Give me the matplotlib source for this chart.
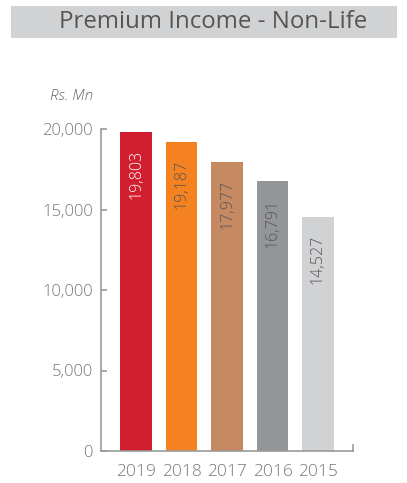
import matplotlib
matplotlib.use("Agg")
import matplotlib.pyplot as plt
from matplotlib.patches import Rectangle
from matplotlib.ticker import FuncFormatter

years = ["2019", "2018", "2017", "2016", "2015"]
values = [19803, 19187, 17977, 16791, 14527]
value_labels = ["19,803", "19,187", "17,977", "16,791", "14,527"]
colors = ["#D11F30", "#F58220", "#C68A62", "#939598", "#D1D2D4"]
label_colors = ["#FFFFFF", "#555555", "#555555", "#555555", "#555555"]
yticks = [0, 5000, 10000, 15000, 20000]

plt.rcParams['font.family'] = ['Open Sans', 'DejaVu Sans']
plt.rcParams['font.weight'] = 'light'

W, H = 407, 483
fig = plt.figure(figsize=(W/100, H/100), dpi=100)

# Title banner
fig.patches.append(Rectangle((11/W, 1-38/H), (397-11)/W, (38-6)/H,
                             transform=fig.transFigure, facecolor="#D1D2D4",
                             edgecolor="none", zorder=0))
fig.text(213/W, 1-22/H, "Premium Income - Non-Life", ha="center", va="center",
         fontsize=17.3, color="#555555", fontweight="normal")
fig.text(50/W, 1-96/H, "Rs. Mn", ha="left", va="center", fontsize=11,
         style="italic", color="#666666")

ax = fig.add_axes([101/W, 32/H, (353-101)/W, (451-129)/H])
x = list(range(len(years)))
ax.bar(x, values, width=0.70, color=colors, zorder=2)
for xi, v, lab, c in zip(x, values, value_labels, label_colors):
    ax.annotate(lab, (xi, v), xytext=(0, -13), textcoords="offset points",
                rotation=90, ha="center", va="top", fontsize=11.5, color=c)

ax.set_xlim(-0.77, 4.77)
ax.set_ylim(0, 20000)
ax.set_yticks(yticks)
ax.yaxis.set_major_formatter(FuncFormatter(lambda v, p: f"{int(v):,}"))
ax.set_xticks(x)
ax.set_xticklabels(years)
for s in ["top", "right"]:
    ax.spines[s].set_visible(False)
for s in ["left", "bottom"]:
    ax.spines[s].set_color("#999999")
    ax.spines[s].set_linewidth(1.2)
ax.tick_params(axis="y", direction="in", length=4, width=1.2, color="#999999",
               labelsize=12, labelcolor="#777777", pad=6)
ax.tick_params(axis="x", length=0, labelsize=12.5, labelcolor="#777777", pad=9)
ax.plot([1, 1], [0, 0.018], transform=ax.transAxes, color="#999999",
        lw=1.2, clip_on=False)

fig.savefig("out.png", dpi=100)
